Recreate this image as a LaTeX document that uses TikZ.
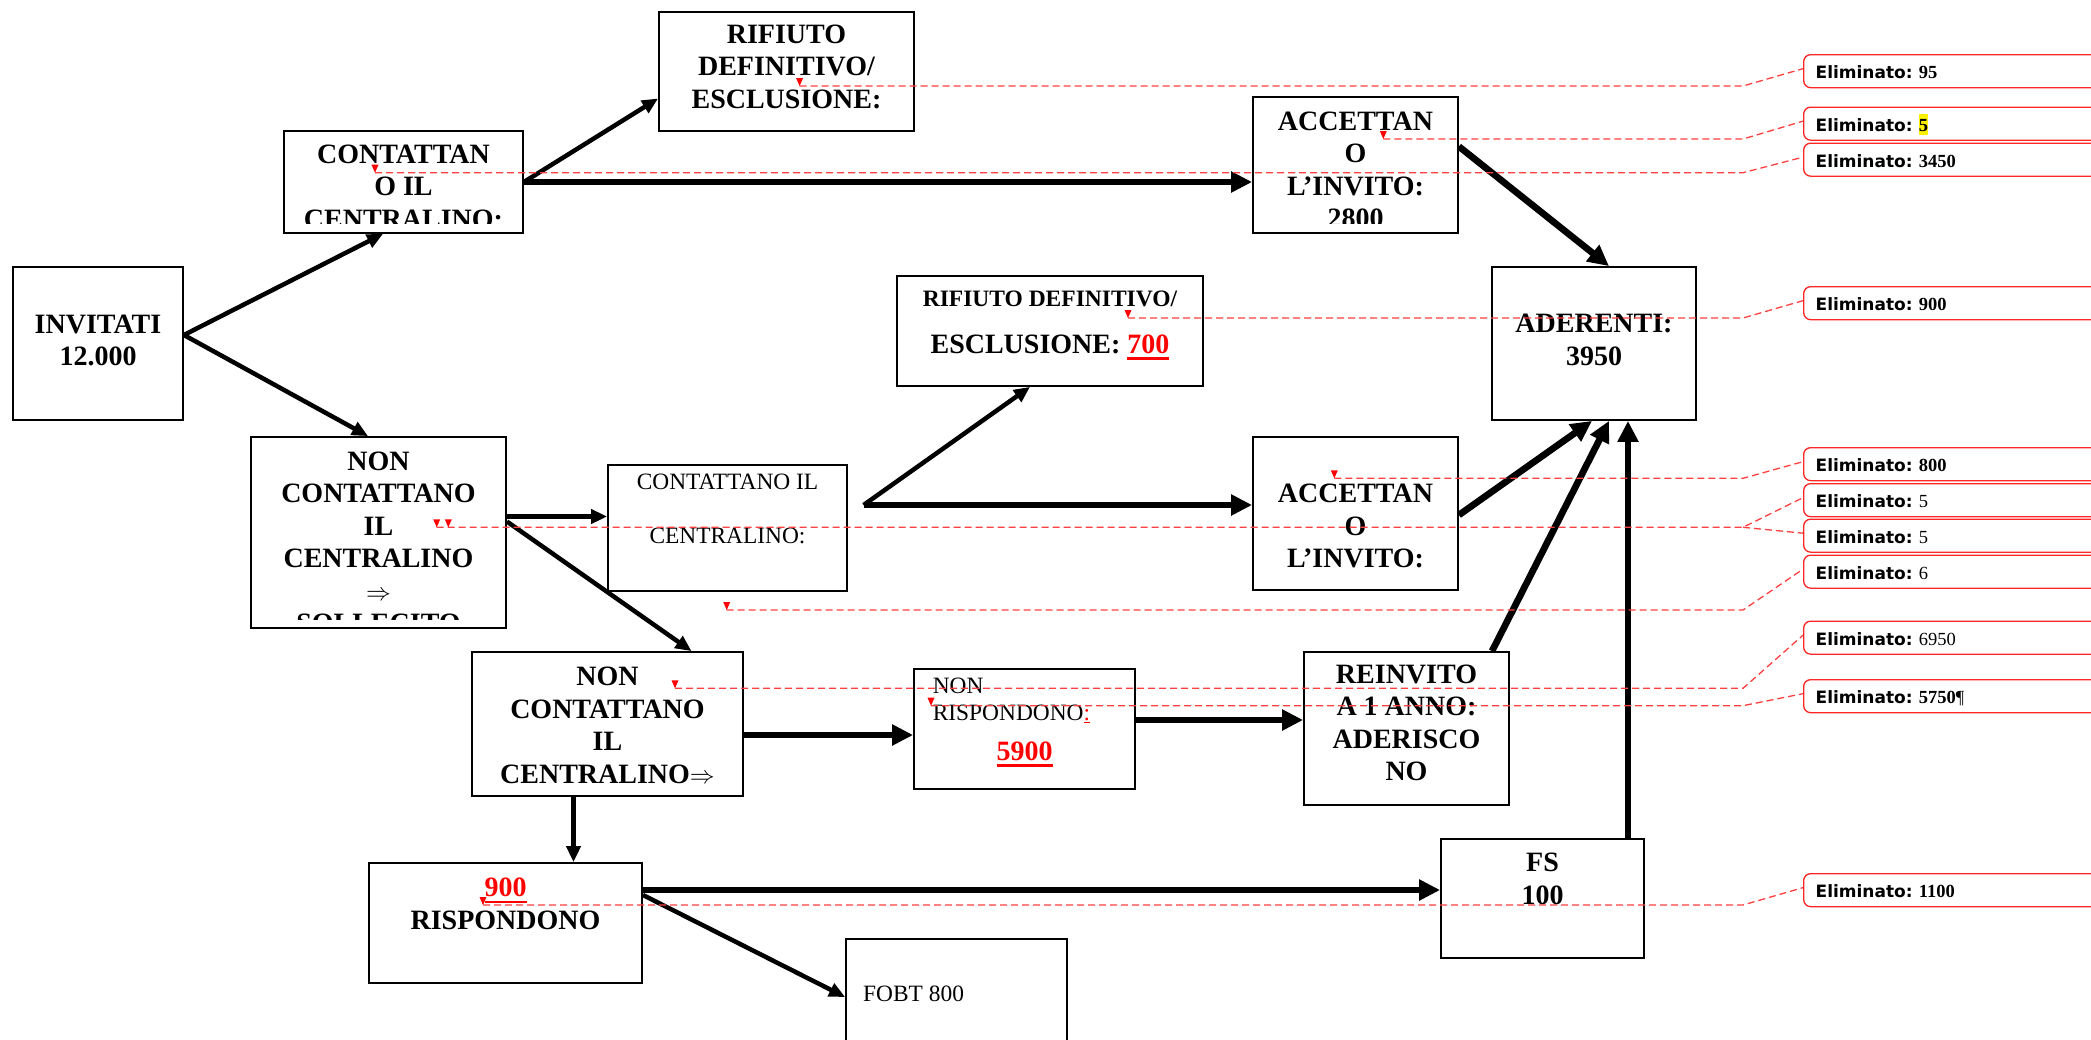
\documentclass[tikz,border=0pt]{standalone}
\usepackage{fontspec}
\usepackage{tikz}
\usepackage{xcolor}
\usetikzlibrary{calc, arrows.meta}
\setmainfont{Liberation Serif}
\newfontfamily\balfont{DejaVu Sans}
\newcommand\redul[1]{\textcolor{red}{\setbox0\hbox{#1}\rlap{\rule[-6.5pt]{\wd0}{2.6pt}}\box0}}
\newcommand\elim{{\balfont\bfseries\fontsize{17}{20}\selectfont Eliminato:}\ }
\newcommand\cmark[1]{\fill[red] (#1) -- ++(-3.5,-8) -- ++(7,0) -- cycle;}

\begin{document}
\begin{tikzpicture}[x=1pt, y=-1pt,
    box/.style={draw, line width=1.8pt, inner sep=0pt},
    btext/.style={anchor=north, inner sep=0pt, align=center,
      font=\bfseries\fontsize{28}{32.5}\selectfont,
      execute at begin node={\rule{0pt}{22pt}}},
    rtext/.style={btext, font=\fontsize{23.4}{54}\selectfont},
    bline/.style={anchor=base, inner sep=0pt, font=\bfseries\fontsize{28}{32.5}\selectfont},
    flow/.style={line width=4.5pt, -{Triangle[length=16pt, width=14pt]}},
    bigflow/.style={line width=6.7pt, -{Triangle[length=21pt, width=20pt]}},
    leader/.style={red!75, line width=1.3pt, dash pattern=on 7pt off 4pt},
    balloon/.style={draw=red!85, line width=1.3pt, rounded corners=7pt,
      anchor=north west, inner xsep=12pt, inner ysep=0pt,
      text height=24pt, text depth=9pt, text width=300pt, align=left,
      font=\fontsize{18.5}{20}\selectfont}]
  \useasboundingbox (0,0) rectangle (2091,1039);
  \clip (0,0) rectangle (2091,1039);
  \fill[white] (0,0) rectangle (2091,1039);

  \node[box, minimum width=170pt, minimum height=153pt] (invitati) at (98,343.5) {};
  \node[box, minimum width=239pt, minimum height=102pt] (contattan) at (403.5,182) {};
  \node[box, minimum width=255pt, minimum height=119pt] (rifiutoA) at (786.5,71.5) {};
  \node[box, minimum width=205pt, minimum height=136pt] (accettaA) at (1355.5,165) {};
  \node[box, minimum width=204pt, minimum height=153pt] (aderenti) at (1594,343.5) {};
  \node[box, minimum width=306pt, minimum height=110pt] (rifiutoB) at (1050,331) {};
  \node[box, minimum width=255pt, minimum height=191pt] (noncontA) at (378.5,532.5) {};
  \node[box, minimum width=239pt, minimum height=126pt] (contattanoIL) at (727.5,528) {};
  \node[box, minimum width=205pt, minimum height=153pt] (accettaB) at (1355.5,513.5) {};
  \node[box, minimum width=271pt, minimum height=144pt] (noncontB) at (607.5,724) {};
  \node[box, minimum width=221pt, minimum height=120pt] (nonrisp) at (1024.5,729) {};
  \node[box, minimum width=205pt, minimum height=153pt] (reinvito) at (1406.5,728.5) {};
  \node[box, minimum width=203pt, minimum height=119pt] (fs) at (1542.5,898.5) {};
  \node[box, minimum width=273pt, minimum height=120pt] (risp900) at (505.5,923) {};
  \node[box, minimum width=221pt, minimum height=130pt] (fobt) at (956.5,1004) {};

  \node[btext] (invitati-t) at (98,314.7) {INVITATI\\12.000};
  \begin{scope}
    \clip (contattan.north west) rectangle ($(contattan.south east)+(0,-10)$);
    \node[btext] (contattan-t) at (403.5,144.7) {CONTATTAN\\O IL\\CENTRALINO:};
  \end{scope}
  \node[btext] (rifiutoA-t) at (786.5,24.7) {RIFIUTO\\DEFINITIVO/\\ESCLUSIONE:};
  \begin{scope}
    \clip (accettaA.north west) rectangle ($(accettaA.south east)+(0,-10)$);
    \node[btext] (accettaA-t) at (1355.5,111.3) {ACCETTAN\\O\\L’INVITO:\\2800};
  \end{scope}
  \node[btext] (aderenti-t) at (1594,314) {ADERENTI:\\3950};
  \node[bline, font=\bfseries\fontsize{23.5}{26}\selectfont] (rifiutoB-t) at (1050,306.7) {RIFIUTO DEFINITIVO/};
  \node[bline] (rifiutoB-n) at (1050,353.5) {ESCLUSIONE: \redul{700}};
  \begin{scope}
    \clip (noncontA.north west) rectangle ($(noncontA.south east)+(0,-9.5)$);
    \node[btext] (noncontA-t) at (378.5,451.3) {NON\\CONTATTANO\\IL\\CENTRALINO\\$\Rightarrow$\\SOLLECITO};
  \end{scope}
  \node[rtext] (contattanoIL-t) at (727.5,474) {CONTATTANO IL\\CENTRALINO:};
  \node[btext] (accettaB-t) at (1355.5,484) {ACCETTAN\\O\\L’INVITO:};
  \begin{scope}
    \clip (noncontB.north west) rectangle ($(noncontB.south east)+(0,-11)$);
    \node[btext] (noncontB-t) at (607.5,667) {NON\\CONTATTANO\\IL\\CENTRALINO$\Rightarrow$};
  \end{scope}
  \node[rtext, anchor=north west, align=left, font=\fontsize{23.4}{26.7}\selectfont] (nonrisp-t) at (932.6,678) {NON\\RISPONDONO\textcolor{red}{\underline{:}}};
  \node[bline] (nonrisp-n) at (1024.5,760) {\redul{5900}};
  \node[btext] (reinvito-t) at (1406.5,664.7) {REINVITO\\A 1 ANNO:\\ADERISCO\\NO};
  \node[btext] (fs-t) at (1542.5,853) {FS\\100};
  \node[btext] (risp900-t) at (505.5,878) {\redul{900}\\RISPONDONO};
  \node[bline, anchor=base west, font=\fontsize{23.4}{26}\selectfont] (fobt-t) at (863,1001.7) {FOBT 800};

  \coordinate (forkC) at ($(contattanoIL.east)+(15.7,-23)$);
  \draw[flow] ($(invitati.east)+(0,-8.5)$) -- ($(contattan.south)+(-20.5,0)$);
  \draw[flow] ($(invitati.east)+(0,-8.5)$) -- ($(noncontA.north)+(-10.5,0)$);
  \draw[flow] (contattan.east) -- ($(rifiutoA.west)+(0,27)$);
  \draw[bigflow] (contattan.east) -- (accettaA.west |- contattan.east);
  \draw[bigflow] ($(accettaA.east)+(0,-18.5)$) -- ($(aderenti.north)+(15,0)$);
  \draw[flow] ($(noncontA.east)+(0,-16)$) -- ($(contattanoIL.west)+(0,-11.5)$);
  \draw[flow] ($(noncontA.east)+(0,-11)$) -- ($(noncontB.north)+(84,0)$);
  \draw[flow] (forkC) -- ($(rifiutoB.south)+(-20,0)$);
  \draw[bigflow] (forkC) -- (forkC -| accettaB.west);
  \draw[bigflow] ($(accettaB.east)+(0,1.5)$) -- ($(aderenti.south)+(-2,0)$);
  \draw[flow] ($(noncontB.south)+(-34,0)$) -- ($(risp900.north)+(68,0)$);
  \draw[bigflow] ($(noncontB.east)+(0,11)$) -- ($(nonrisp.west)+(0,6)$);
  \draw[bigflow] ($(nonrisp.east)+(0,-9)$) -- ($(reinvito.west)+(0,-8.5)$);
  \draw[bigflow] ($(reinvito.north)+(85.5,0)$) -- ($(aderenti.south)+(15,0)$);
  \draw[bigflow] ($(risp900.east)+(0,-33)$) -- ($(fs.west)+(0,-8.5)$);
  \draw[flow] ($(risp900.east)+(0,-28)$) -- ($(fobt.west)+(0,-7)$);
  \draw[bigflow] ($(fs.north)+(85.5,0)$) -- ($(aderenti.south)+(34,0)$);

  \node[balloon] (bal1) at (1803,54) {\elim\textbf{95}};
  \node[balloon] (bal2) at (1803,106.5) {\elim{\setlength{\fboxsep}{0pt}\colorbox{yellow}{\rule[-4pt]{0pt}{21pt}\textbf{5}}}};
  \node[balloon] (bal3) at (1803,142.5) {\elim\textbf{3450}};
  \node[balloon] (bal4) at (1803,286) {\elim\textbf{900}};
  \node[balloon] (bal5) at (1803,447) {\elim\textbf{800}};
  \node[balloon] (bal6) at (1803,483) {\elim 5};
  \node[balloon] (bal7) at (1803,518.5) {\elim 5};
  \node[balloon] (bal8) at (1803,554.5) {\elim 6};
  \node[balloon] (bal9) at (1803,620.5) {\elim 6950};
  \node[balloon] (bal10) at (1803,679) {\elim\textbf{5750}\P};
  \node[balloon] (bal11) at (1803,873) {\elim\textbf{1100}};

  \coordinate (knee) at (1743,0);
  \coordinate (m1) at (799.6,86);
  \coordinate (m2) at (1383.3,139);
  \coordinate (m3) at (375,172.7);
  \coordinate (m4) at (1128,318);
  \coordinate (m5) at (1334.3,478.3);
  \coordinate (m6) at (436.7,527.3);
  \coordinate (m6b) at (448.3,527.3);
  \coordinate (m7) at (726.7,610);
  \coordinate (m8) at (675,688.3);
  \coordinate (m9) at (931,705.7);
  \coordinate (m10) at (483,905);
  \draw[leader] (m1) -- (m1 -| knee) -- ($(bal1.west)+(0,-2.5)$);
  \draw[leader] (m2) -- (m2 -| knee) -- ($(bal2.west)+(0,-2.5)$);
  \draw[leader] (m3) -- (m3 -| knee) -- ($(bal3.west)+(0,-2.5)$);
  \draw[leader] (m4) -- (m4 -| knee) -- ($(bal4.west)+(0,-2.5)$);
  \draw[leader] (m5) -- (m5 -| knee) -- ($(bal5.west)+(0,-2.5)$);
  \draw[leader] (m6) -- (m6 -| knee) -- ($(bal6.west)+(0,-2.5)$);
  \draw[leader] (m6 -| knee) -- ($(bal7.west)+(0,-2.5)$);
  \draw[leader] (m7) -- (m7 -| knee) -- ($(bal8.west)+(0,-2.5)$);
  \draw[leader] (m8) -- (m8 -| knee) -- ($(bal9.west)+(0,-2.5)$);
  \draw[leader] (m9) -- (m9 -| knee) -- ($(bal10.west)+(0,-2.5)$);
  \draw[leader] (m10) -- (m10 -| knee) -- ($(bal11.west)+(0,-2.5)$);
  \cmark{m1} \cmark{m2} \cmark{m3} \cmark{m4} \cmark{m5} \cmark{m6}
  \cmark{m6b} \cmark{m7} \cmark{m8} \cmark{m9} \cmark{m10}
\end{tikzpicture}
\end{document}
